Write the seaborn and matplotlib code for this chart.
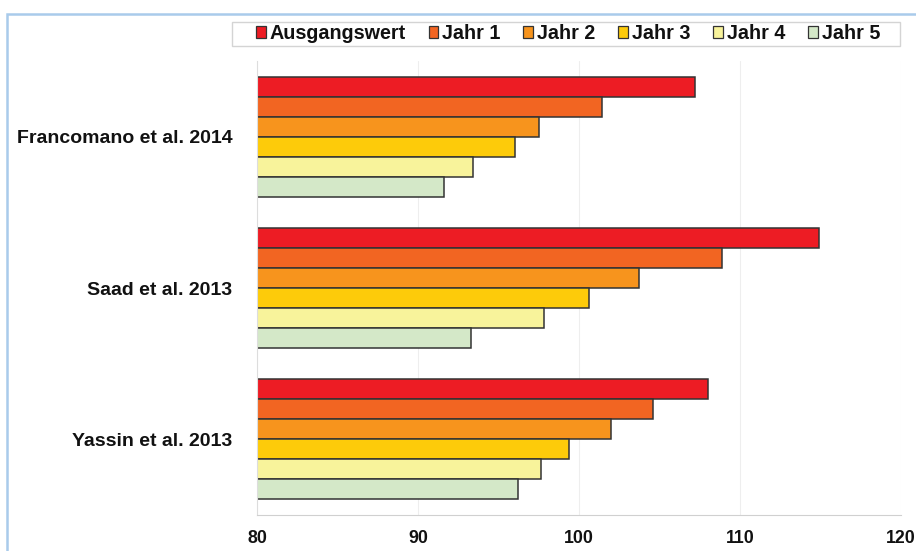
import matplotlib
matplotlib.use("Agg")
import matplotlib.pyplot as plt
from matplotlib.patches import Patch, Rectangle
import pandas as pd
import seaborn as sns

studien = ["Francomano et al. 2014", "Saad et al. 2013", "Yassin et al. 2013"]
zeitpunkte = ["Ausgangswert", "Jahr 1", "Jahr 2", "Jahr 3", "Jahr 4", "Jahr 5"]

francomano = [107.2, 101.4, 97.5, 96.0, 93.4, 91.6]
saad = [114.9, 108.9, 103.7, 100.6, 97.8, 93.3]
yassin = [108.0, 104.6, 102.0, 99.4, 97.6, 96.2]

farben = ["#ED1C24", "#F26522", "#F7941D", "#FDCB0A", "#F8F39B", "#D4E8C8"]
x_ticks = [80, 90, 100, 110, 120]

rows = []
for studie, werte in zip(studien, [francomano, saad, yassin]):
    for zp, w in zip(zeitpunkte, werte):
        rows.append({"Studie": studie, "Zeitpunkt": zp, "Wert": w})
df = pd.DataFrame(rows)

sns.set_theme(style="white")
plt.rcParams["font.family"] = ["Liberation Sans", "DejaVu Sans"]
plt.rcParams["font.weight"] = "bold"

W, H = 916, 551
fig = plt.figure(figsize=(W / 100, H / 100), dpi=100)
ax = fig.add_axes([0.2809, 0.0662, 0.7027, 0.8222])

sns.barplot(
    data=df, y="Studie", x="Wert", hue="Zeitpunkt",
    order=studien, hue_order=zeitpunkte, palette=farben,
    orient="h", width=0.8, edgecolor="#333333", linewidth=1.1,
    saturation=1, legend=False, ax=ax,
)

ax.set_xlim(80, 120)
ax.set_ylim(2.5, -0.5)
ax.set_xticks(x_ticks)
ax.set_xticklabels([str(t) for t in x_ticks], fontsize=12.8, fontweight="bold")
ax.set_yticks(range(len(studien)))
ax.set_yticklabels(studien, fontsize=14, fontweight="bold")
ax.set_xlabel("")
ax.set_ylabel("")

ax.xaxis.grid(True, color="#eeeeee", linewidth=0.8)
ax.set_axisbelow(True)
for side in ["top", "right"]:
    ax.spines[side].set_visible(False)
ax.spines["left"].set_color("#dddddd")
ax.spines["bottom"].set_color("#d0d0d0")
ax.spines["left"].set_linewidth(0.8)
ax.spines["bottom"].set_linewidth(0.8)
ax.tick_params(axis="x", length=3, color="#c8c8c8", pad=8, labelcolor="#111111")
ax.tick_params(axis="y", length=0, pad=18, labelcolor="#111111")

# legend: frameless entries inside a separately drawn box
handles = [Patch(facecolor=c, edgecolor="#333333", linewidth=0.9) for c in farben]
leg = fig.legend(
    handles, zeitpunkte, loc="center",
    bbox_to_anchor=(568 / W, 1 - 33.5 / H),
    ncol=6, frameon=False,
    prop={"weight": "bold", "size": 14.2},
    handlelength=0.5, handleheight=0.5, handletextpad=0.2,
    columnspacing=1.15, borderpad=0.0,
)
for t in leg.get_texts():
    t.set_color("#111111")
fig.patches.append(Rectangle(
    (232 / W, 1 - 45.5 / H), (900 - 232) / W, 23.5 / H,
    transform=fig.transFigure, facecolor="white",
    edgecolor="#d4d4d4", linewidth=1.0, zorder=0,
))

# light blue outer frame
fig.patches.append(Rectangle(
    (7 / W, -0.2), 1.2, 1.2 - 14 / H,
    transform=fig.transFigure, fill=False,
    edgecolor="#a9cbeb", linewidth=1.8,
))

fig.savefig("out.png", dpi=100)
